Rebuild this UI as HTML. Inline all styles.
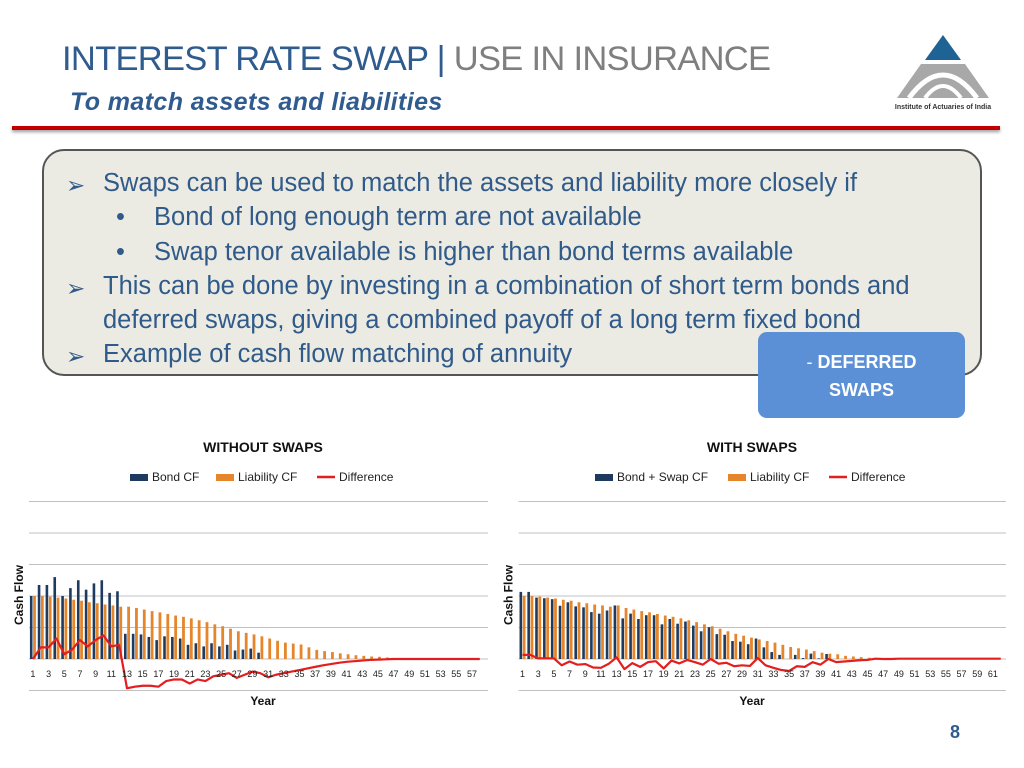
<!DOCTYPE html>
<html><head><meta charset="utf-8">
<style>
body{margin:0;width:1024px;height:768px;background:#fff;position:relative;overflow:hidden;font-family:"Liberation Sans",sans-serif;}
.abs{position:absolute;white-space:nowrap;}
#title{left:62px;top:40px;font-size:34.5px;color:#2f5b8f;letter-spacing:-0.7px;}
#title span{color:#7f7f7f;}
#subtitle{left:70px;top:88px;font-size:25px;font-style:italic;font-weight:bold;color:#2f5b8f;letter-spacing:0.4px;}
#rule{left:12px;top:126px;width:988px;height:4px;background:#c00000;box-shadow:0 2px 3px #999;}
#box{left:42px;top:149px;width:936px;height:223px;background:#ecebe3;border:2px solid #555;border-radius:22px;}
.ln{font-size:25.5px;color:#2f5a89;letter-spacing:0px;}
.ar{position:absolute;left:66px;font-size:23px;color:#2f5a89;}
#deferred{left:758px;top:332px;width:207px;height:86px;background:#5b8fd6;border-radius:9px;color:#fff;font-weight:bold;font-size:18px;text-align:center;line-height:28px;padding-top:16px;box-sizing:border-box;}
#page{left:950px;top:722px;font-size:18px;font-weight:bold;color:#2f5b8f;}
</style></head><body>
<div class="abs" id="title">INTEREST RATE SWAP | <span>USE IN INSURANCE</span></div>
<div class="abs" id="subtitle">To match assets and liabilities</div>
<div class="abs" id="rule"></div>
<svg class="abs" style="left:895px;top:32px" width="100" height="80">
<polygon points="48,3 66,28 30,28" fill="#1f6394"/>
<polygon points="26,32 70,32 94,66 2,66" fill="#a8a8a8"/>
<path d="M14,66 Q48,20 82,66" fill="none" stroke="#fff" stroke-width="5"/>
<path d="M30,66 Q48,42 66,66" fill="none" stroke="#fff" stroke-width="4"/>
<text x="48" y="77" font-size="7" text-anchor="middle" fill="#333" font-weight="bold">Institute of Actuaries of India</text>
</svg>
<div class="abs" id="box"></div>
<div class="ar" style="top:172px">➢</div>
<div class="abs ln" style="left:103px;top:169px">Swaps can be used to match the assets and liability more closely if</div>
<div class="abs ln" style="left:116px;top:203px">•</div>
<div class="abs ln" style="left:154px;top:203px">Bond of long enough term are not available</div>
<div class="abs ln" style="left:116px;top:238px">•</div>
<div class="abs ln" style="left:154px;top:238px">Swap tenor available is higher than bond terms available</div>
<div class="ar" style="top:275px">➢</div>
<div class="abs ln" style="left:103px;top:272px">This can be done by investing in a combination of short term bonds and</div>
<div class="abs ln" style="left:103px;top:306px">deferred swaps, giving a combined payoff of a long term fixed bond</div>
<div class="ar" style="top:343px">➢</div>
<div class="abs ln" style="left:103px;top:340px">Example of cash flow matching of annuity</div>
<div class="abs" id="deferred"><span style="font-weight:normal">-</span> DEFERRED<br>SWAPS</div>
<svg class="abs" style="left:0;top:0" width="1024" height="768" id="charts"></svg>
<div class="abs" id="page">8</div>
<script>
const leftBond=[2.0,2.35,2.35,2.6,2.0,2.25,2.5,2.2,2.4,2.5,2.1,2.15,0.8,0.8,0.78,0.7,0.6,0.72,0.7,0.65,0.45,0.5,0.4,0.5,0.4,0.45,0.27,0.3,0.33,0.2,0,0,0,0,0,0,0,0,0,0,0,0,0,0,0,0,0,0,0,0,0,0,0,0,0,0,0,0];
const leftLiab=[2.0,2.0,1.98,1.95,1.92,1.88,1.85,1.8,1.77,1.73,1.7,1.66,1.66,1.62,1.57,1.52,1.48,1.43,1.38,1.34,1.29,1.23,1.17,1.1,1.04,0.96,0.88,0.83,0.78,0.72,0.65,0.58,0.52,0.49,0.46,0.37,0.29,0.25,0.22,0.18,0.15,0.12,0.1,0.08,0.07,0.05,0,0,0,0,0,0,0,0,0,0,0,0];
const leftDiff=[0,0.37,0.37,0.65,0.15,0.3,0.6,0.4,0.6,0.75,0.4,0.45,-0.93,-0.88,-0.85,-0.85,-0.88,-0.7,-0.65,-0.65,-0.78,-0.65,-0.7,-0.55,-0.5,-0.45,-0.6,-0.5,-0.4,-0.45,-0.58,-0.5,-0.45,-0.4,-0.35,-0.3,-0.25,-0.2,-0.16,-0.12,-0.09,-0.07,-0.05,-0.03,-0.02,-0.01,0,0,0,0,0,0,0,0,0,0,0,0];
const rightBond=[2.13,2.13,1.95,1.93,1.9,1.69,1.8,1.67,1.64,1.49,1.44,1.54,1.7,1.29,1.44,1.27,1.39,1.39,1.1,1.27,1.12,1.19,1.06,0.88,1.01,0.79,0.77,0.57,0.55,0.47,0.65,0.37,0.22,0.13,0,0.13,0.03,0.17,0.02,0.16,0,0,0,0,0,0,0,0,0,0,0,0,0,0,0,0,0,0,0,0,0,0];
const rightLiab=[2.0,2.0,1.98,1.95,1.92,1.88,1.85,1.8,1.77,1.73,1.7,1.66,1.7,1.62,1.57,1.52,1.48,1.43,1.38,1.34,1.29,1.23,1.17,1.1,1.04,0.96,0.88,0.8,0.74,0.68,0.62,0.57,0.52,0.45,0.38,0.34,0.3,0.25,0.2,0.17,0.15,0.1,0.08,0.06,0.04,0,0,0,0,0,0,0,0,0,0,0,0,0,0,0,0,0];
const rightDiff=[0.13,0.13,0.02,0.02,0.02,-0.2,-0.08,-0.18,-0.16,-0.27,-0.28,-0.15,0.05,-0.32,-0.13,-0.25,-0.1,-0.07,-0.3,-0.05,-0.14,-0.03,-0.1,-0.18,0,-0.15,-0.12,-0.23,-0.2,-0.22,0.03,-0.2,-0.28,-0.35,-0.38,-0.23,-0.25,-0.1,-0.18,0,-0.1,-0.08,-0.06,-0.04,-0.03,0.01,0,0,0.01,0.01,0.01,0.01,0.01,0.01,0.01,0.01,0.01,0.01,0.01,0.01,0.01,0.01];
const leftTitle="WITHOUT SWAPS", rightTitle="WITH SWAPS";
const leftLegend=["Bond CF","Liability CF","Difference"];
const rightLegend=["Bond + Swap CF","Liability CF","Difference"];
const gridVals=[-1,0,1,2,3,4,5];
const NS="http://www.w3.org/2000/svg";
const svg=document.getElementById('charts');
function mk(tag,attrs,parent){const e=document.createElementNS(NS,tag);for(const k in attrs)e.setAttribute(k,attrs[k]);(parent||svg).appendChild(e);return e;}
function chart(cfg){
  const g=mk('g',{});
  
  
  const n=cfg.bond.length, step=cfg.step;
  const x=i=>cfg.x0+step*(i+0.5);
  const y=v=>659-v*31.5;
  gridVals.forEach(v=>{const l=mk('line',{x1:cfg.x0,x2:cfg.x1,y1:y(v),y2:y(v),stroke:'#c0c0c0','stroke-width':1},g);
    
    });
  for(let i=0;i<n;i++){
    if(cfg.bond[i]>0){const r=mk('rect',{x:x(i)-3,y:y(cfg.bond[i]),width:2.6,height:cfg.bond[i]*31.5,fill:'#1f3a5f'},g);
      
      }
    if(cfg.liab[i]>0){const r=mk('rect',{x:x(i)+0.2,y:y(cfg.liab[i]),width:2.8,height:cfg.liab[i]*31.5,fill:'#e5862c'},g);
      
      }
  }
  const pts=cfg.diff.map((v,i)=>x(i)+','+y(v)).join(' ');
  const pl=mk('polyline',{points:pts,fill:'none',stroke:'#e41e1e','stroke-width':2.2,'stroke-linejoin':'round'},g);
  
  
  for(let i=0;i<n;i+=2){const t=mk('text',{x:x(i),y:677,'font-size':9,'text-anchor':'middle',fill:'#222'},g);t.textContent=String(i+1);
    
    }
  const tt=mk('text',{x:cfg.cx,y:452,'font-size':14,'font-weight':'bold','text-anchor':'middle',fill:'#111'},g);tt.textContent=cfg.title;
  
  
  const xt=mk('text',{x:cfg.cx,y:705,'font-size':12,'font-weight':'bold','text-anchor':'middle',fill:'#111'},g);xt.textContent='Year';
  
  
  const yt=mk('text',{x:0,y:0,'font-size':12,'font-weight':'bold','text-anchor':'middle',fill:'#111',transform:`translate(${cfg.x0-6},595) rotate(-90)`},g);yt.textContent='Cash Flow';
  
  
  const cols=['#1f3a5f','#e5862c','#e41e1e'];
  cfg.legend.forEach((lab,k)=>{const lx=cfg.lx[k];
    if(k<2){const s=mk('rect',{x:lx,y:474,width:18,height:7,fill:cols[k]},g);}
    else{const s=mk('line',{x1:lx,x2:lx+18,y1:477,y2:477,stroke:cols[k],'stroke-width':2.5},g);}
    const t=mk('text',{x:lx+22,y:481,'font-size':12,fill:'#222'},g);t.textContent=lab;
    
    });
}
chart({name:'without-swaps-chart',bond:leftBond,liab:leftLiab,diff:leftDiff,x0:29,x1:488,step:7.84,cx:263,title:leftTitle,legend:leftLegend,lx:[130,216,317]});
chart({name:'with-swaps-chart',bond:rightBond,liab:rightLiab,diff:rightDiff,x0:518.6,x1:1006,step:7.84,cx:752,title:rightTitle,legend:rightLegend,lx:[595,728,829]});
</script>
</body></html>
